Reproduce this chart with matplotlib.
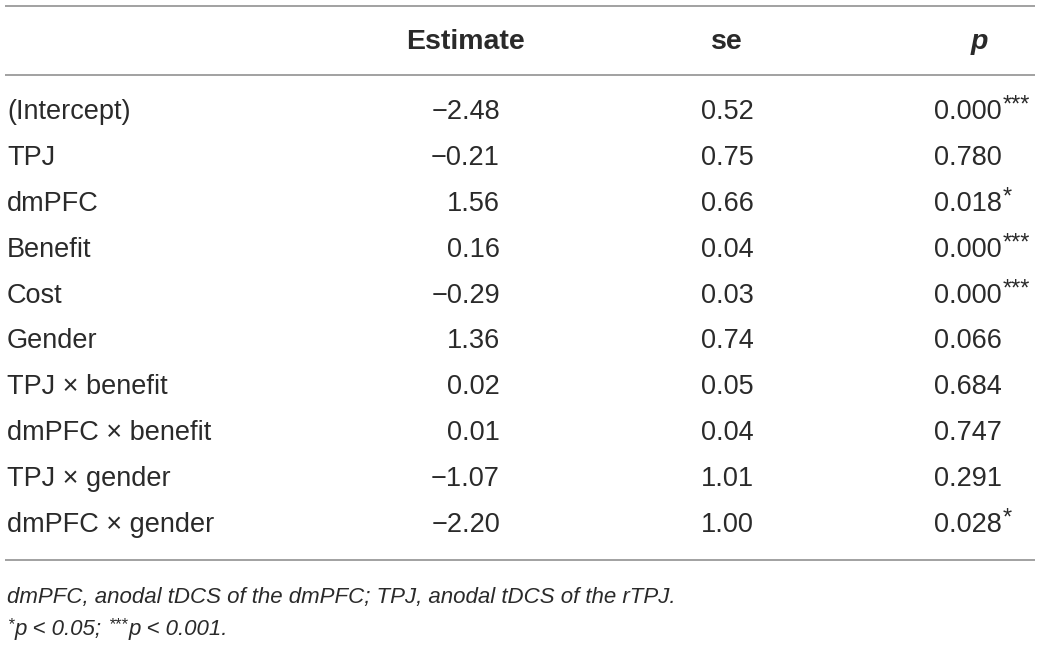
import matplotlib
matplotlib.use("Agg")
import matplotlib.pyplot as plt
import numpy as np

terms = ["(Intercept)", "TPJ", "dmPFC", "Benefit", "Cost", "Gender",
         "TPJ \u00d7 benefit", "dmPFC \u00d7 benefit", "TPJ \u00d7 gender", "dmPFC \u00d7 gender"]
estimates = [-2.48, -0.21, 1.56, 0.16, -0.29, 1.36, 0.02, 0.01, -1.07, -2.20]
se_values = [0.52, 0.75, 0.66, 0.04, 0.03, 0.74, 0.05, 0.04, 1.01, 1.00]
p_values = ["0.000", "0.780", "0.018", "0.000", "0.000", "0.066", "0.684", "0.747", "0.291", "0.028"]
p_stars = ["***", "", "*", "***", "***", "", "", "", "", "*"]
headers = ["Estimate", "se", "p"]
footnote1 = "dmPFC, anodal tDCS of the dmPFC; TPJ, anodal tDCS of the rTPJ."
# footnote 2 pieces: (text, superscript?)
footnote2 = [("*", True), ("p < 0.05; ", False), ("***", True), ("p < 0.001.", False)]

W, H = 1040, 646
fig = plt.figure(figsize=(W / 100, H / 100), dpi=100)
ax = fig.add_axes([0, 0, 1, 1])
ax.set_xlim(0, W)
ax.set_ylim(H, 0)
ax.axis("off")

FONT = "Liberation Sans"
TXT = "#2a2a2a"
LINE = "#9a9a9a"
FS = 19.5

# rules
for y in (5.5, 75, 560):
    ax.plot([5, 1035], [y, y], color=LINE, lw=1.3, solid_capstyle="butt")

# headers
hy = 42
ax.text(465, hy, headers[0], ha="center", va="center", fontsize=20.5, fontweight="bold",
        family=FONT, color=TXT)
ax.text(727, hy, headers[1], ha="center", va="center", fontsize=20.5, fontweight="bold",
        family=FONT, color=TXT)
ax.text(979, hy, headers[2], ha="center", va="center", fontsize=20.5, fontweight="bold",
        style="italic", family=FONT, color=TXT)

rows_y = np.linspace(112, 525, len(terms))

def fmt(v):
    s = f"{v:.2f}"
    return s.replace("-", "\u2212")

for i, y in enumerate(rows_y):
    ax.text(7, y, terms[i], ha="left", va="center", fontsize=FS, family=FONT, color=TXT)
    ax.text(500, y, fmt(estimates[i]), ha="right", va="center", fontsize=FS, family=FONT, color=TXT)
    ax.text(727, y, f"{se_values[i]:.2f}", ha="center", va="center", fontsize=FS, family=FONT, color=TXT)
    ax.text(1002, y, p_values[i], ha="right", va="center", fontsize=FS, family=FONT, color=TXT)
    if p_stars[i]:
        ax.text(1003, y - 6, p_stars[i], ha="left", va="center", fontsize=17,
                family=FONT, color=TXT)

FFS = 16
ax.text(7, 597, footnote1, ha="left", va="center", fontsize=FFS, style="italic",
        family=FONT, color=TXT)

fig.canvas.draw()
renderer = fig.canvas.get_renderer()
x = 7
for txt, sup in footnote2:
    t = ax.text(x, 630 - (5 if sup else 0), txt, ha="left", va="center",
                fontsize=(12 if sup else FFS), style="italic", family=FONT, color=TXT)
    bb = t.get_window_extent(renderer)
    x = x + bb.width + (1 if sup else 0)

fig.savefig("out.png", dpi=100, facecolor="white")
